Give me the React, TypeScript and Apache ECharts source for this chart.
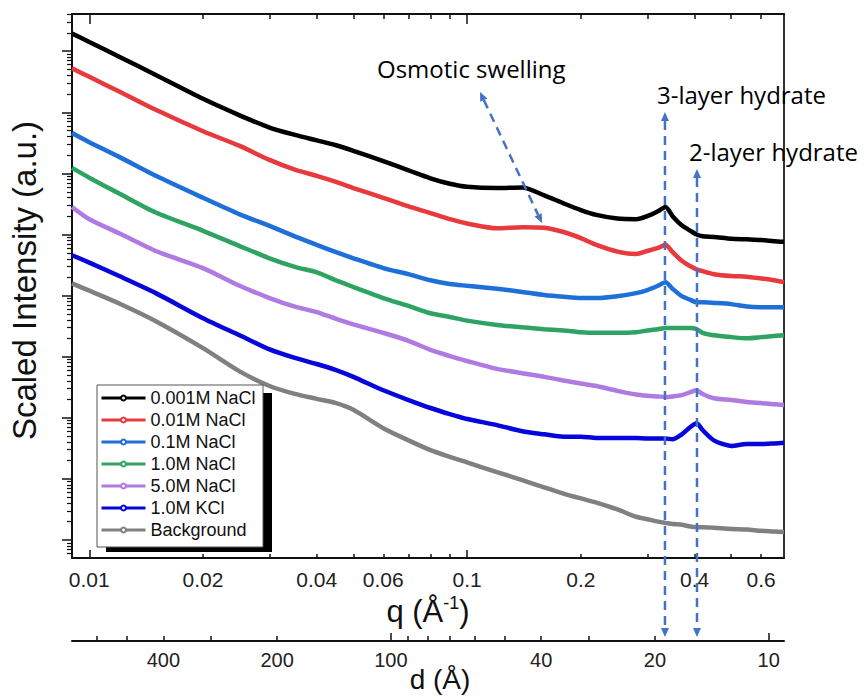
import React, { useEffect, useRef } from "react";
import * as echarts from "echarts";

// q values (Å^-1) sampled along every curve
const qValues = [0.009, 0.01, 0.012, 0.015, 0.02, 0.025, 0.03, 0.035, 0.04, 0.045, 0.05, 0.06, 0.07, 0.08, 0.09, 0.1, 0.12, 0.14, 0.16, 0.18, 0.2, 0.22, 0.25, 0.28, 0.3, 0.32, 0.335, 0.35, 0.37, 0.39, 0.405, 0.42, 0.45, 0.5, 0.55, 0.6, 0.65, 0.69];

// log10 of scaled intensity (a.u.)
const log10I_0001M_NaCl = [8.29, 8.15, 7.91, 7.61, 7.22, 6.95, 6.75, 6.63, 6.54, 6.46, 6.37, 6.20, 6.05, 5.92, 5.83, 5.78, 5.76, 5.77, 5.64, 5.51, 5.40, 5.32, 5.26, 5.25, 5.30, 5.38, 5.45, 5.30, 5.15, 5.06, 5.00, 4.97, 4.96, 4.93, 4.92, 4.91, 4.89, 4.88];
const log10I_001M_NaCl = [7.72, 7.58, 7.34, 7.04, 6.69, 6.45, 6.22, 6.06, 5.96, 5.86, 5.76, 5.60, 5.46, 5.35, 5.25, 5.18, 5.10, 5.12, 5.11, 5.04, 4.94, 4.83, 4.72, 4.68, 4.73, 4.78, 4.83, 4.71, 4.57, 4.48, 4.43, 4.40, 4.35, 4.32, 4.31, 4.28, 4.25, 4.22];
const log10I_01M_NaCl = [6.66, 6.51, 6.27, 5.96, 5.60, 5.33, 5.14, 4.97, 4.83, 4.71, 4.61, 4.45, 4.35, 4.25, 4.19, 4.16, 4.11, 4.06, 4.01, 3.98, 3.96, 3.96, 3.99, 4.04, 4.09, 4.16, 4.22, 4.11, 3.99, 3.93, 3.89, 3.89, 3.88, 3.86, 3.82, 3.81, 3.81, 3.81];
const log10I_10M_NaCl = [6.09, 5.93, 5.67, 5.36, 5.06, 4.81, 4.61, 4.47, 4.38, 4.25, 4.14, 3.96, 3.83, 3.71, 3.65, 3.59, 3.52, 3.48, 3.45, 3.43, 3.40, 3.39, 3.39, 3.40, 3.43, 3.45, 3.47, 3.47, 3.47, 3.47, 3.45, 3.39, 3.35, 3.32, 3.30, 3.32, 3.34, 3.35];
const log10I_50M_NaCl = [5.45, 5.25, 5.02, 4.73, 4.45, 4.16, 3.96, 3.82, 3.73, 3.62, 3.53, 3.39, 3.26, 3.11, 3.01, 2.93, 2.80, 2.73, 2.67, 2.61, 2.56, 2.52, 2.44, 2.38, 2.36, 2.35, 2.34, 2.35, 2.37, 2.42, 2.45, 2.39, 2.32, 2.29, 2.26, 2.24, 2.22, 2.21];
const log10I_10M_KCl = [4.66, 4.54, 4.32, 4.04, 3.63, 3.35, 3.12, 2.98, 2.88, 2.78, 2.67, 2.45, 2.29, 2.16, 2.06, 1.98, 1.88, 1.78, 1.73, 1.69, 1.69, 1.67, 1.67, 1.67, 1.66, 1.66, 1.66, 1.65, 1.73, 1.85, 1.91, 1.80, 1.63, 1.54, 1.57, 1.57, 1.58, 1.59];
const log10I_Background = [4.20, 4.08, 3.87, 3.58, 3.14, 2.76, 2.52, 2.39, 2.31, 2.24, 2.13, 1.83, 1.63, 1.47, 1.36, 1.27, 1.11, 0.98, 0.86, 0.76, 0.68, 0.61, 0.50, 0.38, 0.34, 0.30, 0.28, 0.26, 0.25, 0.22, 0.21, 0.21, 0.20, 0.18, 0.17, 0.15, 0.14, 0.13];

const seriesNames = ["0.001M NaCl", "0.01M NaCl", "0.1M NaCl", "1.0M NaCl", "5.0M NaCl", "1.0M KCl", "Background"];
const seriesLogValues = [log10I_0001M_NaCl, log10I_001M_NaCl, log10I_01M_NaCl, log10I_10M_NaCl, log10I_50M_NaCl, log10I_10M_KCl, log10I_Background];
const seriesColors = ["#000000", "#e8393d", "#1f6fd8", "#2fa362", "#b07ae3", "#0505dc", "#808080"];

// axes
const qMin = 0.009;
const qMax = 0.69;
const yMin = 0.507;
const yMax = 4.06e8;
const qLabelValues = [0.01, 0.02, 0.04, 0.06, 0.1, 0.2, 0.4, 0.6];
const qMajorTicks = [0.01, 0.1];
const qMinorTicks = [0.02, 0.03, 0.04, 0.05, 0.06, 0.07, 0.08, 0.09, 0.2, 0.3, 0.4, 0.5, 0.6];
const dLabelValues = [400, 200, 100, 40, 20, 10];
const dMajorTicks = [100, 10];
const dMinorTicks = [600, 500, 400, 300, 200, 90, 80, 70, 60, 50, 40, 30, 20, 9];
const yMajorTicks = [1, 1e1, 1e2, 1e3, 1e4, 1e5, 1e6, 1e7, 1e8];
const yMinorMultipliers = [2, 3, 4, 5, 6, 7, 8, 9];

// annotated peak positions (Å^-1)
const q3Layer = 0.334;
const q2Layer = 0.406;

const FONT = "'Liberation Sans', Arial, Helvetica, sans-serif";
const ANNO_FONT = "'Open Sans', 'Noto Sans', sans-serif";
const ARROW = "#4472c4";

function arrowHead(tx: number, ty: number, fx: number, fy: number) {
  const dx = tx - fx;
  const dy = ty - fy;
  const len = Math.hypot(dx, dy);
  const ux = dx / len;
  const uy = dy / len;
  const nx = -uy;
  const ny = ux;
  const L = 9;
  const W = 4;
  return {
    base: [tx - ux * L, ty - uy * L],
    el: {
      type: "polygon",
      z: 20,
      shape: {
        points: [
          [tx, ty],
          [tx - ux * L + nx * W, ty - uy * L + ny * W],
          [tx - ux * L - nx * W, ty - uy * L - ny * W],
        ],
      },
      style: { fill: ARROW },
    },
  };
}

function doubleArrow(x1: number, y1: number, x2: number, y2: number) {
  const a = arrowHead(x1, y1, x2, y2);
  const b = arrowHead(x2, y2, x1, y1);
  return [
    {
      type: "line",
      z: 20,
      shape: { x1: a.base[0], y1: a.base[1], x2: b.base[0], y2: b.base[1] },
      style: { stroke: ARROW, lineWidth: 2.5, lineDash: [9, 6] },
    },
    a.el,
    b.el,
  ];
}

export default function App() {
  const ref = useRef<HTMLDivElement>(null);

  useEffect(() => {
    const el = ref.current;
    if (!el) return;
    const chart = echarts.init(el, null, { renderer: "svg" });

    const yMinorTicks: number[] = [];
    [0.1, ...yMajorTicks].forEach((p) => {
      yMinorMultipliers.forEach((m) => {
        const v = m * p;
        if (v > yMin && v < yMax) yMinorTicks.push(v);
      });
    });

    const dMin = (2 * Math.PI) / qMax;
    const dMax = (2 * Math.PI) / qMin;

    const axisLine = { show: true, lineStyle: { color: "#111", width: 2 } };
    const noLine = { show: false };
    const noLabel = { show: false };

    const qAxisBase = {
      type: "log",
      gridIndex: 0,
      min: qMin,
      max: qMax,
      logBase: 10,
      splitLine: { show: false },
    };

    const option: any = {
      animation: false,
      backgroundColor: "#ffffff",
      grid: [
        { left: 72, top: 14, width: 712, height: 544, containLabel: false, outerBoundsMode: "none" },
        { left: 72, top: 640, width: 712, height: 1, containLabel: false, outerBoundsMode: "none" },
      ],
      xAxis: [
        {
          ...qAxisBase,
          position: "bottom",
          axisLine,
          axisTick: { show: true, inside: true, length: 4, customValues: qMinorTicks, lineStyle: { color: "#111", width: 1.5 } },
          axisLabel: {
            show: true,
            customValues: qLabelValues,
            formatter: (v: number) => String(+Number(v).toPrecision(3)),
            fontSize: 21,
            fontFamily: FONT,
            color: "#222",
            margin: 11,
          },
          name: "q (Å{sup|-1})",
          nameLocation: "middle",
          nameGap: 36,
          nameMoveOverlap: false,
          nameTextStyle: {
            fontSize: 31,
            fontFamily: FONT,
            color: "#111",
            lineHeight: 34,
            rich: {
              sup: { fontSize: 18, fontFamily: FONT, color: "#111", verticalAlign: "top", lineHeight: 34, padding: [0, 0, 12, 0] },
            },
          },
        },
        {
          ...qAxisBase,
          position: "bottom",
          axisLine: noLine,
          axisTick: { show: true, inside: true, length: 8, customValues: qMajorTicks, lineStyle: { color: "#111", width: 1.5 } },
          axisLabel: noLabel,
        },
        {
          ...qAxisBase,
          position: "top",
          axisLine,
          axisTick: { show: true, inside: true, length: 5, customValues: qMinorTicks, lineStyle: { color: "#111", width: 1.5 } },
          axisLabel: noLabel,
        },
        {
          ...qAxisBase,
          position: "top",
          axisLine: noLine,
          axisTick: { show: true, inside: true, length: 10, customValues: qMajorTicks, lineStyle: { color: "#111", width: 1.5 } },
          axisLabel: noLabel,
        },
        {
          type: "log",
          gridIndex: 1,
          position: "bottom",
          inverse: true,
          min: dMin,
          max: dMax,
          splitLine: { show: false },
          axisLine,
          axisTick: { show: true, inside: true, length: 5, customValues: dMinorTicks, lineStyle: { color: "#111", width: 1.5 } },
          axisLabel: {
            show: true,
            customValues: dLabelValues,
            formatter: (v: number) => String(Math.round(v)),
            fontSize: 20,
            lineHeight: 16,
            fontFamily: FONT,
            color: "#222",
            margin: 11,
          },
          name: "d (Å)",
          nameLocation: "middle",
          nameGap: 24,
          nameMoveOverlap: false,
          nameTextStyle: { fontSize: 28, fontFamily: FONT, color: "#111", lineHeight: 28, padding: [0, 0, 0, 24] },
        },
        {
          type: "log",
          gridIndex: 1,
          position: "bottom",
          inverse: true,
          min: dMin,
          max: dMax,
          splitLine: { show: false },
          axisLine: noLine,
          axisTick: { show: true, inside: true, length: 8, customValues: dMajorTicks, lineStyle: { color: "#111", width: 1.5 } },
          axisLabel: noLabel,
        },
      ],
      yAxis: [
        {
          type: "log",
          gridIndex: 0,
          position: "left",
          min: yMin,
          max: yMax,
          splitLine: { show: false },
          axisLine,
          axisTick: { show: true, inside: false, length: 10, customValues: yMajorTicks, lineStyle: { color: "#111", width: 1.5 } },
          axisLabel: noLabel,
          name: "Scaled Intensity (a.u.)",
          nameLocation: "middle",
          nameGap: 30,
          nameMoveOverlap: false,
          nameTextStyle: { fontSize: 33, fontFamily: FONT, color: "#111", lineHeight: 36, padding: [0, 0, 0, 11] },
        },
        {
          type: "log",
          gridIndex: 0,
          position: "left",
          min: yMin,
          max: yMax,
          splitLine: { show: false },
          axisLine: noLine,
          axisTick: { show: true, inside: false, length: 5, customValues: yMinorTicks, lineStyle: { color: "#111", width: 1.2 } },
          axisLabel: noLabel,
        },
        {
          type: "log",
          gridIndex: 0,
          position: "right",
          min: yMin,
          max: yMax,
          splitLine: { show: false },
          axisLine: { show: true, lineStyle: { color: "#333", width: 2 } },
          axisTick: { show: false },
          axisLabel: noLabel,
        },
        {
          type: "value",
          gridIndex: 1,
          show: false,
          min: 0,
          max: 1,
        },
      ],
      legend: {
        orient: "vertical",
        left: 98,
        top: 386,
        z: 30,
        selectedMode: false,
        itemWidth: 44,
        itemHeight: 6,
        itemGap: 0,
        padding: [1, 3, 6, 2],
        data: seriesNames,
        lineStyle: { width: 3 },
        textStyle: { fontSize: 18, lineHeight: 22, fontFamily: FONT, color: "#111" },
      },
      series: seriesNames.map((name, i) => ({
        type: "line",
        name,
        xAxisIndex: 0,
        yAxisIndex: 0,
        data: qValues.map((q, j) => [q, Math.pow(10, seriesLogValues[i][j])]),
        showSymbol: false,
        symbol: "emptyCircle",
        smooth: 0.25,
        clip: true,
        z: 2 + (seriesNames.length - i) * 0.01,
        lineStyle: { color: seriesColors[i], width: 4.5 },
        itemStyle: { color: seriesColors[i] },
      })),
    };

    chart.setOption(option);

    const x3 = chart.convertToPixel({ xAxisIndex: 0 }, q3Layer) as number;
    const x2 = chart.convertToPixel({ xAxisIndex: 0 }, q2Layer) as number;

    const graphics: any[] = [
      // legend frame with its black drop shadow
      { type: "rect", z: 10, shape: { x: 106, y: 393, width: 166, height: 159 }, style: { fill: "#000" } },
      { type: "rect", z: 11, shape: { x: 97, y: 385, width: 166, height: 162 }, style: { fill: "#fff", stroke: "#555", lineWidth: 1 } },
      ...doubleArrow(480, 92, 542, 223),
      ...doubleArrow(x3, 112, x3, 637),
      ...doubleArrow(x2, 169, x2, 637),
      {
        type: "text",
        z: 21,
        x: 377,
        y: 68,
        style: { text: "Osmotic swelling", fontSize: 24, fontFamily: ANNO_FONT, fill: "#000", verticalAlign: "middle" },
      },
      {
        type: "text",
        z: 21,
        x: 657,
        y: 94,
        style: { text: "3-layer hydrate", fontSize: 24, fontFamily: ANNO_FONT, fill: "#000", verticalAlign: "middle" },
      },
      {
        type: "text",
        z: 21,
        x: 689,
        y: 151,
        style: { text: "2-layer hydrate", fontSize: 24, fontFamily: ANNO_FONT, fill: "#000", verticalAlign: "middle" },
      },
    ];

    chart.setOption({ graphic: { elements: graphics } });

    return () => {
      chart.dispose();
    };
  }, []);

  return (
    <div
      ref={ref}
      style={{ position: "fixed", left: 0, top: 0, width: 864, height: 696, background: "#fff" }}
    />
  );
}
